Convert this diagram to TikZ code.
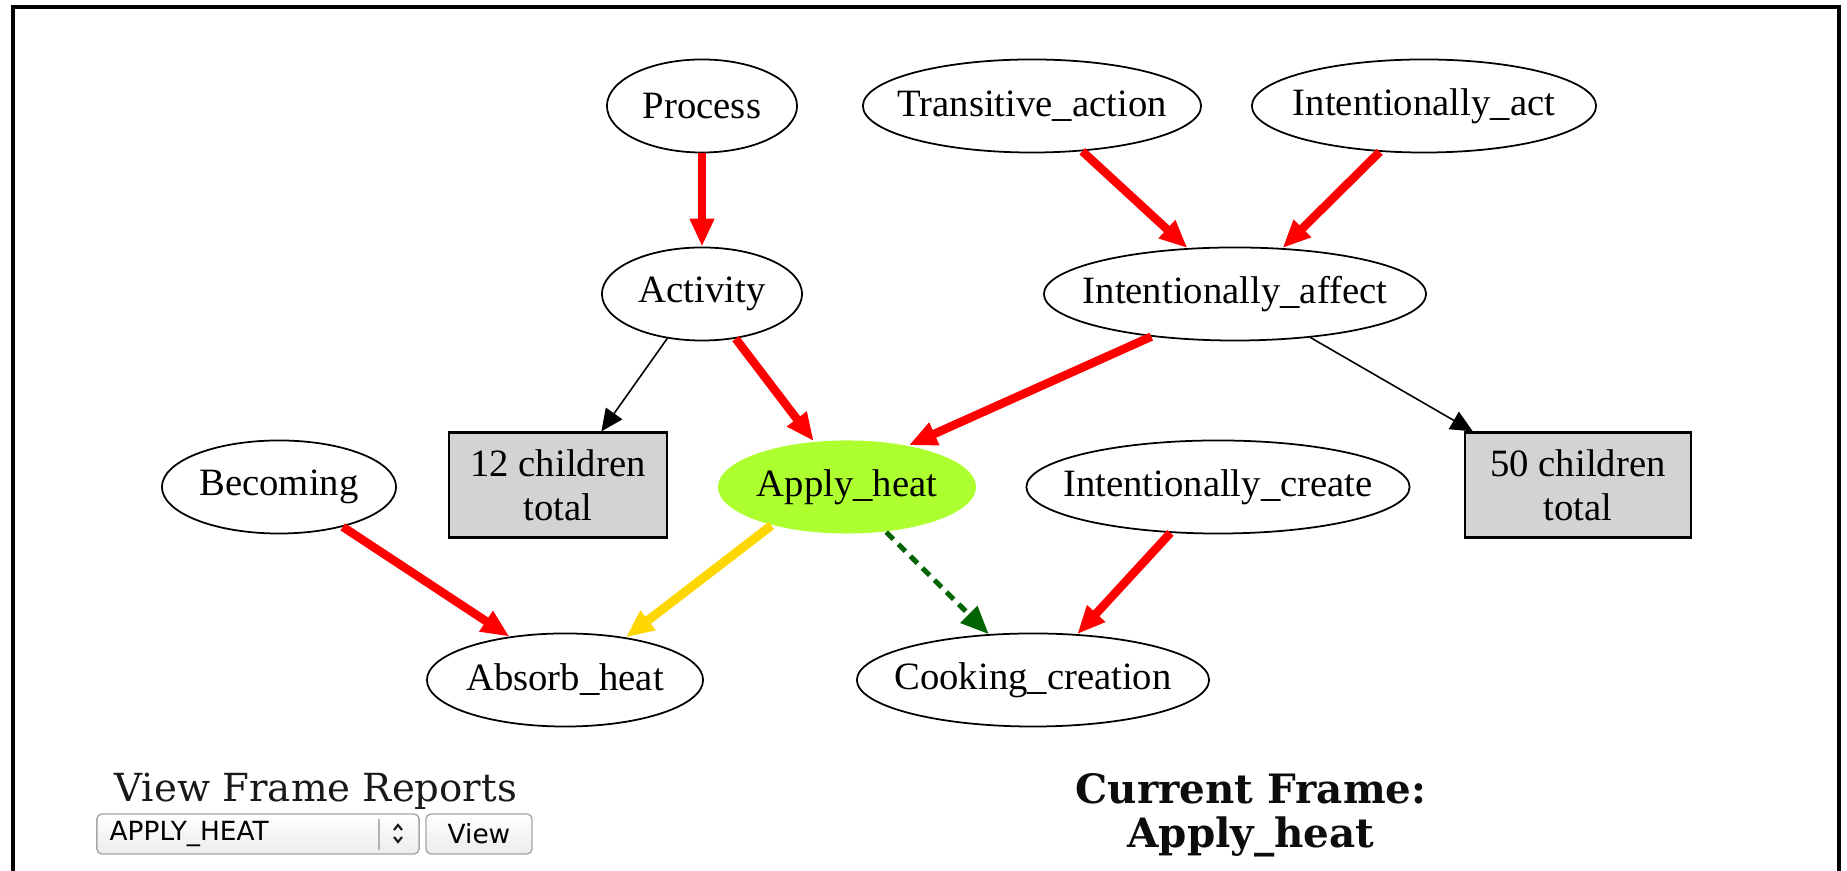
\documentclass[tikz,border=0pt]{standalone}
\usepackage{fontspec}
\setmainfont{Liberation Serif}
\newfontfamily\uiserif{DejaVu Serif}
\newfontfamily\uisans{DejaVu Sans}
\usetikzlibrary{shapes.geometric, arrows.meta}
\definecolor{boxgray}{HTML}{D3D3D3}
\definecolor{heatgreen}{HTML}{ADFF2F}
\definecolor{causegold}{HTML}{FFD700}
\definecolor{usesgreen}{HTML}{006400}
\tikzset{
    > = {Triangle[length=0.28cm, width=0.23cm]},
    fnode/.style = {ellipse, draw, line width=0.5pt, minimum height=0.93cm,
        inner sep=0pt, font=\fontsize{11}{12.5}\selectfont,
        execute at begin node={\hbox to 0pt\bgroup\hss},
        execute at end node={\hss\egroup}},
    total/.style = {rectangle, draw, line width=0.6pt, fill=boxgray, align=center,
        minimum height=1.05cm, inner sep=0pt, font=\fontsize{11}{12.5}\selectfont},
    inherit/.style = {->, red, line width=0.085cm},
    causative/.style = {->, causegold, line width=0.09cm},
    uses/.style = {->, usesgreen, line width=0.05cm, dash pattern=on 0.1cm off 0.07cm},
    more/.style = {-{Triangle[length=0.22cm, width=0.2cm]}, black, line width=0.45pt},
    uibox/.style = {draw=gray!70, rounded corners=0.05cm, top color=white,
        bottom color=gray!15, inner sep=0pt}
}

\begin{document}
\begin{tikzpicture}[x=0.01cm, y=-0.01cm]
    \useasboundingbox (0,0) rectangle (1847,871);
    \draw[line width=0.04cm] (13,871) -- (13,7) -- (1839,7) -- (1839,871);

    \node[fnode, minimum width=1.90cm] (process) at (702,106) {Process};
    \node[fnode, minimum width=3.38cm] (transitive) at (1032,106) {Transitive\_action};
    \node[fnode, minimum width=3.44cm] (intact) at (1424,106) {Intentionally\_act};
    \node[fnode, minimum width=2.00cm] (activity) at (702,294) {Activity};
    \node[fnode, minimum width=3.82cm] (intaffect) at (1235,294) {Intentionally\_affect};
    \node[total, minimum width=2.18cm] (box12) at (558,485) {12 children\\total};
    \node[fnode, draw=none, fill=heatgreen, minimum width=2.58cm] (apply) at (847,487) {Apply\_heat};
    \node[fnode, minimum width=2.34cm] (becoming) at (279,487) {Becoming};
    \node[fnode, minimum width=3.83cm] (intcreate) at (1218,487) {Intentionally\_create};
    \node[total, minimum width=2.26cm] (box50) at (1578,485) {50 children\\total};
    \node[fnode, minimum width=2.76cm] (absorb) at (565,680) {Absorb\_heat};
    \node[fnode, minimum width=3.52cm] (cooking) at (1033,680) {Cooking\_creation};

    \draw (process) edge[inherit] (activity);
    \draw (transitive.318) edge[inherit] (intaffect.136);
    \draw (intact.226) edge[inherit] (intaffect.44);
    \draw (activity.232) edge[more] (box12.51);
    \draw (activity.307) edge[inherit] (apply.126);
    \draw (intaffect.207) edge[inherit] (apply.34);
    \draw (intaffect.330) edge[more] (box50.153);
    \draw (becoming.328) edge[inherit] (absorb.142);
    \draw (apply.207) edge[causative] (absorb.35);
    \draw (apply.311) edge[uses] (cooking.134);
    \draw (intcreate.224) edge[inherit] (cooking.46);

    % report chooser
    \node[anchor=base west, inner sep=0pt, text=gray!20!black,
        font=\uiserif\fontsize{11}{12}\selectfont]
        (reports) at (114,802) {View Frame Reports};
    \node[uibox, minimum width=3.22cm, minimum height=0.40cm] (select) at (258,834) {};
    \node[anchor=west, inner sep=0pt, font=\uisans\fontsize{7.5}{9}\selectfont]
        (selecttext) at (109,834) {APPLY\_HEAT};
    \draw[gray!60] (379,819) -- (379,850);
    \draw[line width=0.6pt, gray!20!black] (394,830) -- (398,825) -- (402,830)
        (394,837) -- (398,842) -- (402,837);
    \node[uibox, minimum width=1.06cm, minimum height=0.40cm,
        font=\uisans\fontsize{7.5}{9}\selectfont] (viewbtn) at (479,834) {View};

    \node[align=center, inner sep=0pt, text=gray!10!black,
        font=\uiserif\bfseries\fontsize{11.5}{12.5}\selectfont]
        (current) at (1251,815) {Current Frame:\\Apply\_heat};
\end{tikzpicture}
\end{document}
